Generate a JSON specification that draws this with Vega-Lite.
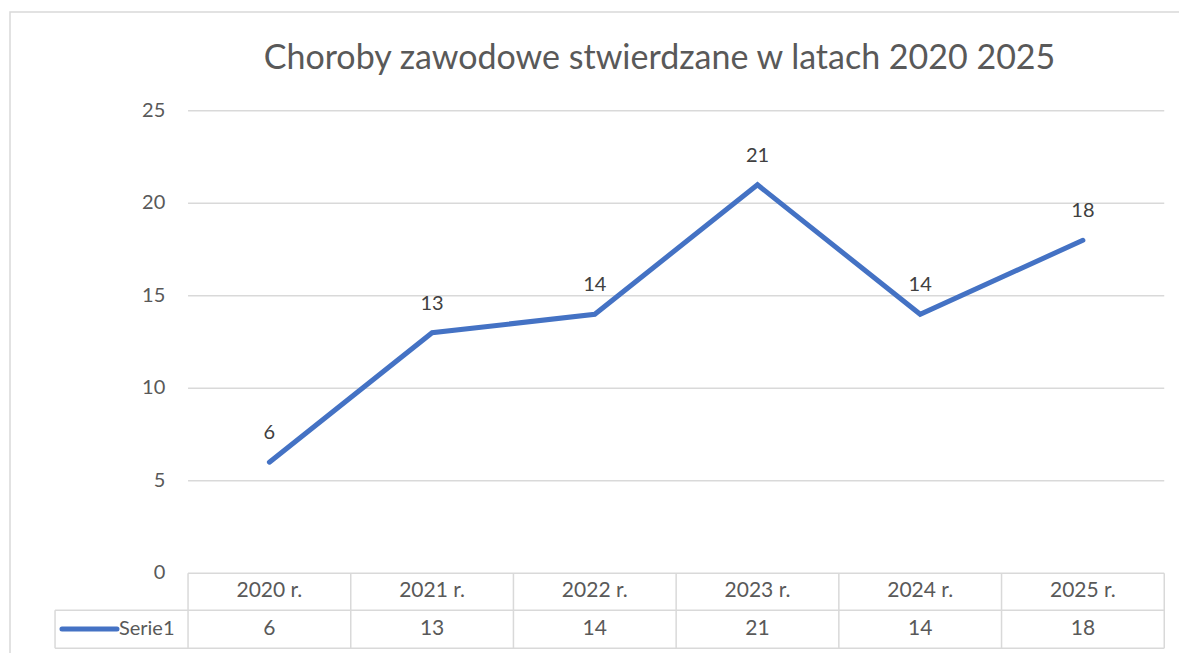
{
  "$schema": "https://vega.github.io/schema/vega-lite/v6.json",
  "autosize": "none",
  "padding": {"left": 10, "top": 12, "right": 0, "bottom": 0},
  "width": 1175,
  "height": 650,
  "background": "white",
  "config": {
    "view": {"stroke": "#d9d9d9", "strokeWidth": 1.5},
    "font": "Lato",
    "text": {"font": "Lato"}
  },
  "title": {
    "text": "Choroby zawodowe stwierdzane w latach 2020 2025",
    "font": "Lato",
    "fontSize": 34,
    "fontWeight": "normal",
    "color": "#595959",
    "anchor": "middle",
    "frame": "group",
    "dx": 62,
    "offset": -64
  },
  "datasets": {
    "series": [
      {"year": 2020, "label": "2020 r.", "value": 6},
      {"year": 2021, "label": "2021 r.", "value": 13},
      {"year": 2022, "label": "2022 r.", "value": 14},
      {"year": 2023, "label": "2023 r.", "value": 21},
      {"year": 2024, "label": "2024 r.", "value": 14},
      {"year": 2025, "label": "2025 r.", "value": 18}
    ],
    "ticks": [{"v": 0}, {"v": 5}, {"v": 10}, {"v": 15}, {"v": 20}, {"v": 25}],
    "bounds": [{"b": 2019.5}, {"b": 2020.5}, {"b": 2021.5}, {"b": 2022.5}, {"b": 2023.5}, {"b": 2024.5}, {"b": 2025.5}],
    "rows": [{"r": -2.0}, {"r": -4.06}],
    "legend": [{"series": "Serie1"}]
  },
  "layer": [
    {
      "data": {"name": "ticks"},
      "mark": {"type": "rule", "color": "#d9d9d9", "strokeWidth": 1.4},
      "encoding": {
        "y": {"field": "v", "type": "quantitative", "scale": {"domain": [-4.8026, 30.343], "nice": false, "zero": false}, "axis": null},
        "x": {"datum": 2019.5, "type": "quantitative", "scale": {"domain": [2018.4057, 2025.6276], "nice": false, "zero": false}, "axis": null},
        "x2": {"datum": 2025.5}
      }
    },
    {
      "data": {"name": "ticks"},
      "mark": {"type": "text", "align": "right", "baseline": "middle", "fontSize": 20, "color": "#595959"},
      "encoding": {
        "y": {"field": "v", "type": "quantitative"},
        "x": {"datum": 2019.36, "type": "quantitative"},
        "text": {"field": "v", "type": "quantitative"}
      }
    },
    {
      "data": {"name": "rows"},
      "mark": {"type": "rule", "color": "#d9d9d9", "strokeWidth": 1.5},
      "encoding": {
        "y": {"field": "r", "type": "quantitative"},
        "x": {"datum": 2018.6825, "type": "quantitative"},
        "x2": {"datum": 2025.5}
      }
    },
    {
      "data": {"name": "bounds"},
      "mark": {"type": "rule", "color": "#d9d9d9", "strokeWidth": 1.5},
      "encoding": {
        "x": {"field": "b", "type": "quantitative"},
        "y": {"datum": 0, "type": "quantitative"},
        "y2": {"datum": -4.06}
      }
    },
    {
      "data": {"name": "legend"},
      "mark": {"type": "rule", "color": "#d9d9d9", "strokeWidth": 1.5},
      "encoding": {
        "x": {"datum": 2018.6825, "type": "quantitative"},
        "y": {"datum": -2.0, "type": "quantitative"},
        "y2": {"datum": -4.06}
      }
    },
    {
      "data": {"name": "legend"},
      "mark": {"type": "rule", "color": "#4472C4", "strokeWidth": 5, "strokeCap": "round"},
      "encoding": {
        "x": {"datum": 2018.7253, "type": "quantitative"},
        "x2": {"datum": 2019.0633},
        "y": {"datum": -3.02, "type": "quantitative"}
      }
    },
    {
      "data": {"name": "legend"},
      "mark": {"type": "text", "align": "left", "baseline": "middle", "fontSize": 20, "color": "#595959"},
      "encoding": {
        "x": {"datum": 2019.075, "type": "quantitative"},
        "y": {"datum": -3.02, "type": "quantitative"},
        "text": {"field": "series", "type": "nominal"}
      }
    },
    {
      "data": {"name": "series"},
      "mark": {"type": "text", "align": "center", "baseline": "middle", "fontSize": 21, "color": "#595959"},
      "encoding": {
        "x": {"field": "year", "type": "quantitative"},
        "y": {"datum": -0.99, "type": "quantitative"},
        "text": {"field": "label", "type": "nominal"}
      }
    },
    {
      "data": {"name": "series"},
      "mark": {"type": "text", "align": "center", "baseline": "middle", "fontSize": 21, "color": "#595959"},
      "encoding": {
        "x": {"field": "year", "type": "quantitative"},
        "y": {"datum": -3.02, "type": "quantitative"},
        "text": {"field": "value", "type": "quantitative"}
      }
    },
    {
      "data": {"name": "series"},
      "mark": {"type": "line", "color": "#4472C4", "strokeWidth": 5, "strokeCap": "round", "strokeJoin": "miter"},
      "encoding": {
        "x": {"field": "year", "type": "quantitative"},
        "y": {"field": "value", "type": "quantitative"}
      }
    },
    {
      "data": {"name": "series"},
      "mark": {"type": "text", "align": "center", "baseline": "alphabetic", "dy": -23, "fontSize": 20, "color": "#404040"},
      "encoding": {
        "x": {"field": "year", "type": "quantitative"},
        "y": {"field": "value", "type": "quantitative"},
        "text": {"field": "value", "type": "quantitative"}
      }
    }
  ]
}
